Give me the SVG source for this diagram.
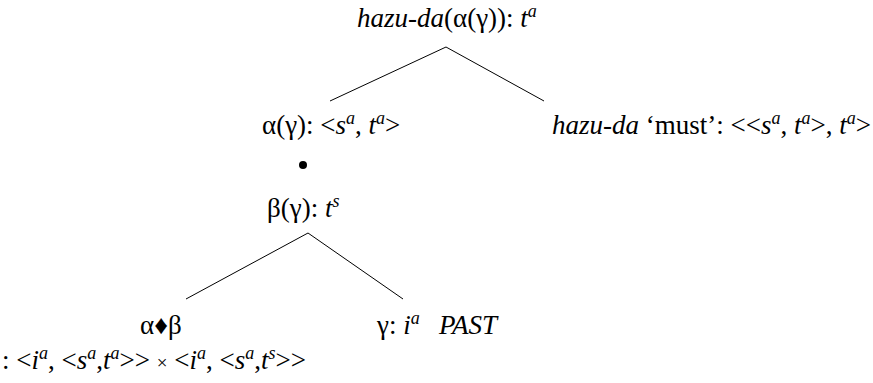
<svg xmlns="http://www.w3.org/2000/svg" width="873" height="383" viewBox="0 0 873 383" font-family="Liberation Serif">
  <style>
    .lbl { font-size: 27px; fill: #000; }
    .it { font-style: italic; }
    .sup { font-size: 18px; font-style: italic; }
    .edge { stroke: #000; stroke-width: 1; fill: none; }
  </style>
  <rect width="873" height="383" fill="#fff"/>

  <g id="connectors">
    <line class="edge" x1="446" y1="47" x2="330" y2="101"/>
    <line class="edge" x1="446" y1="47" x2="544" y2="101"/>
    <line class="edge" x1="308" y1="233" x2="186" y2="299"/>
    <line class="edge" x1="308" y1="233" x2="403" y2="299"/>
  </g>

  <g id="root">
    <text class="lbl" font-family="Liberation Serif" x="357" y="27"><tspan class="it">hazu-da</tspan>(α(γ)): <tspan class="it">t</tspan><tspan class="sup" dy="-10">a</tspan></text>
  </g>

  <g id="alpha-gamma">
    <text class="lbl" font-family="Liberation Serif" x="262" y="134">α(γ): &lt;<tspan class="it">s</tspan><tspan class="sup" dy="-10">a</tspan><tspan dy="10">, </tspan><tspan class="it">t</tspan><tspan class="sup" dy="-10">a</tspan><tspan dy="10">&gt;</tspan></text>
  </g>

  <g id="hazu-da">
    <text class="lbl" font-family="Liberation Serif" x="552" y="134"><tspan class="it">hazu-da</tspan> ‘must’: &lt;&lt;<tspan class="it">s</tspan><tspan class="sup" dy="-10">a</tspan><tspan dy="10">, </tspan><tspan class="it">t</tspan><tspan class="sup" dy="-10">a</tspan><tspan dy="10">&gt;, </tspan><tspan class="it">t</tspan><tspan class="sup" dy="-10">a</tspan><tspan dy="10">&gt;</tspan></text>
  </g>

  <g id="composition">
    <circle cx="303" cy="165" r="4" fill="#000"/>
  </g>

  <g id="beta-gamma">
    <text class="lbl" font-family="Liberation Serif" x="267" y="217">β(γ): <tspan class="it">t</tspan><tspan class="sup" dy="-10">s</tspan></text>
  </g>

  <g id="alpha-beta">
    <text class="lbl" font-family="Liberation Serif" x="140" y="334">α♦β</text>
    <text class="lbl" font-family="Liberation Serif" x="2" y="369">: &lt;<tspan class="it">i</tspan><tspan class="sup" dy="-10">a</tspan><tspan dy="10">, &lt;</tspan><tspan class="it">s</tspan><tspan class="sup" dy="-10">a</tspan><tspan dy="10">,</tspan><tspan class="it">t</tspan><tspan class="sup" dy="-10">a</tspan><tspan dy="10">&gt;&gt; </tspan><tspan font-size="19">×</tspan> &lt;<tspan class="it">i</tspan><tspan class="sup" dy="-10">a</tspan><tspan dy="10">, &lt;</tspan><tspan class="it">s</tspan><tspan class="sup" dy="-10">a</tspan><tspan dy="10">,</tspan><tspan class="it">t</tspan><tspan class="sup" dy="-10">s</tspan><tspan dy="10">&gt;&gt;</tspan></text>
  </g>

  <g id="gamma">
    <text class="lbl" font-family="Liberation Serif" x="377" y="334">γ: <tspan class="it">i</tspan><tspan class="sup" dy="-10">a</tspan><tspan class="it" x="439" dy="10">PAST</tspan></text>
  </g>
</svg>
